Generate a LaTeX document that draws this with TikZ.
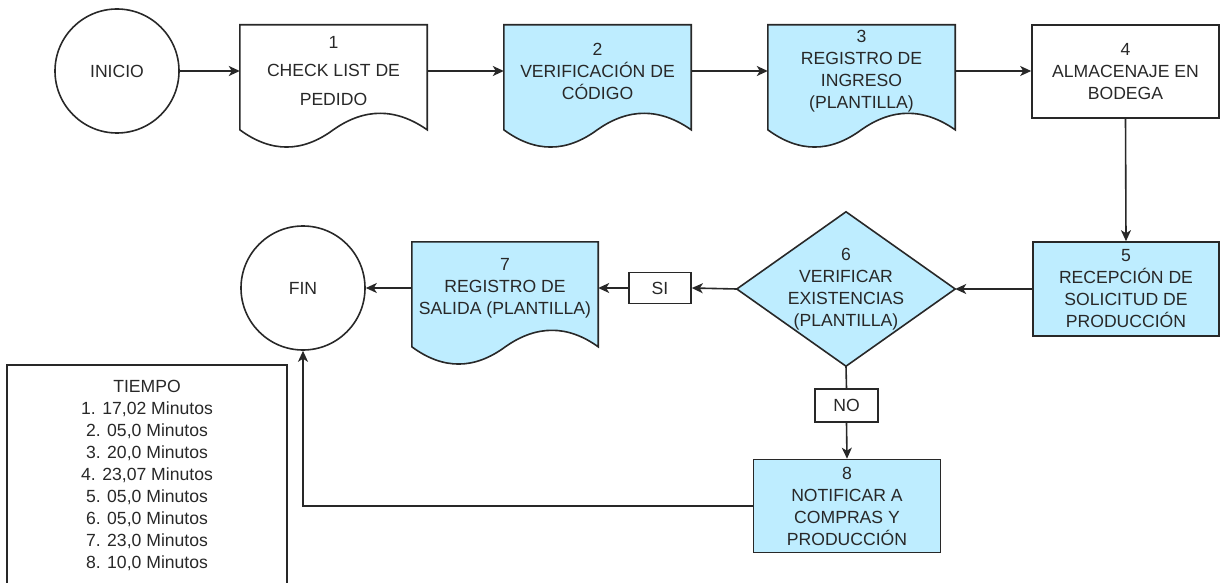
\documentclass[tikz,border=0pt]{standalone}
\usepackage{fontspec}
\setmainfont{Liberation Sans}
\usetikzlibrary{arrows.meta,calc,backgrounds}

\definecolor{ink}{RGB}{40,40,40}
\definecolor{procblue}{RGB}{190,237,255}

% flowchart "document" outline with a wavy bottom, drawn around node #2
\newcommand\docwave[2][white]{%
  \begin{pgfonlayer}{background}
  \draw[outline,fill=#1] (#2.north west) -- (#2.north east) -- ($(#2.north east)+(0,105)$)
    .. controls ($(#2.north west)+(155.8,83)$) and ($(#2.north west)+(124.7,83)$) .. ($(#2.north west)+(93.5,105)$)
    .. controls ($(#2.north west)+(62.3,128)$) and ($(#2.north west)+(31.2,128)$) .. ($(#2.north west)+(0,105)$)
    -- cycle;
  \end{pgfonlayer}}

\tikzset{
  outline/.style={draw=ink,line width=1.6pt},
  txt/.style={text=ink,font=\fontsize{17.6}{22}\selectfont,align=center,inner sep=0pt},
  docbox/.style={txt,minimum width=187pt,minimum height=92pt},
  terminal/.style={txt,outline,circle,minimum size=124pt},
  procbox/.style={txt,outline,rectangle,minimum width=187pt,minimum height=93pt},
  tagbox/.style={txt,outline,rectangle,fill=white,minimum width=62pt,minimum height=31pt},
  flow/.style={draw=ink,line width=1.6pt,-{Stealth[length=11pt,width=10pt,inset=3pt]}},
  plain/.style={draw=ink,line width=1.6pt},
}

\begin{document}
\begin{tikzpicture}[x=1pt,y=-1pt]
\useasboundingbox (0,0) rectangle (1221,583);

% top row
\node[terminal] (inicio) at (117,71) {INICIO};
\node[docbox] (d1) at (333.5,71) {1\\[6.5pt]CHECK LIST DE\\[6.5pt]PEDIDO};
\docwave{d1}
\node[docbox] (d2) at (597.5,71) {2\\VERIFICACIÓN DE\\CÓDIGO};
\docwave[procblue]{d2}
\node[docbox] (d3) at (861.5,71) {3\\REGISTRO DE\\INGRESO\\(PLANTILLA)};
\docwave[procblue]{d3}
\node[procbox] (b4) at (1125.5,71.5) {4\\ALMACENAJE EN\\BODEGA};

% second row
\node[procbox,fill=procblue,minimum width=186pt,minimum height=94pt] (b5) at (1126,289) {5\\RECEPCIÓN DE\\SOLICITUD DE\\PRODUCCIÓN};
\node[txt,minimum width=218pt,minimum height=154pt] (d6) at (846,289) {6\\VERIFICAR\\EXISTENCIAS\\(PLANTILLA)};
\begin{pgfonlayer}{background}
  \draw[outline,fill=procblue] (d6.west) -- (d6.north) -- (d6.east) -- (d6.south) -- cycle;
\end{pgfonlayer}
\node[tagbox] (si) at (660,288) {SI};
\node[docbox,minimum width=186pt] (d7) at (505,288) {7\\REGISTRO DE\\SALIDA (PLANTILLA)};
\docwave[procblue]{d7}
\node[terminal] (fin) at (303,288) {FIN};

% lower part
\node[tagbox,minimum width=63pt,minimum height=33pt] (no) at (846.5,405.5) {NO};
\node[procbox,fill=procblue,minimum width=187pt,minimum height=93pt] (b8) at (847,506) {8\\NOTIFICAR A\\COMPRAS Y\\PRODUCCIÓN};

% time table, open at the bottom edge
\draw[plain] (7,600) -- (7,365) -- (287,365) -- (287,600);
\node[txt] (tiempo) at (147,475.5) {TIEMPO\\1. 17,02 Minutos\\2. 05,0 Minutos\\3. 20,0 Minutos\\4. 23,07 Minutos\\5. 05,0 Minutos\\6. 05,0 Minutos\\7. 23,0 Minutos\\8. 10,0 Minutos};

% connectors
\draw[flow] (inicio.east) -- (d1.west);
\draw[flow] (d1.east) -- (d2.west);
\draw[flow] (d2.east) -- (d3.west);
\draw[flow] (d3.east) -- (b4.west |- d3.east);
\draw[flow] (b4.south) -- (b5.north);
\draw[flow] (b5.west) -- (d6.east);
\draw[flow] (d6.west) -- (si.east);
\draw[flow] (si.west) -- (d7.east);
\draw[flow] (d7.west) -- (fin.east);
\draw[plain] (d6.south) -- (no.north);
\draw[flow] (no.south) -- (b8.north);
\draw[flow] (b8.west) -| (fin.south);
\end{tikzpicture}
\end{document}
